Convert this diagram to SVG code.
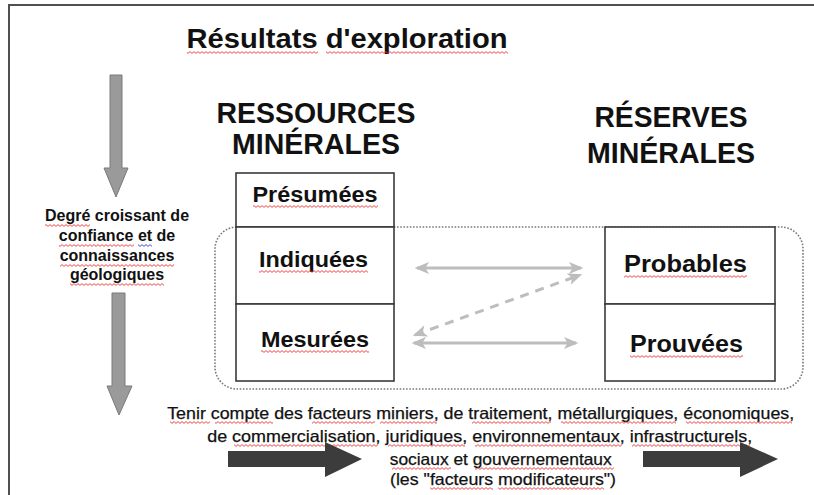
<svg xmlns="http://www.w3.org/2000/svg" width="814" height="495" viewBox="0 0 814 495">
<style>
.t{font-family:"Liberation Sans",Arial,sans-serif;font-weight:bold;fill:#111;text-anchor:middle}
.b{font-family:"Liberation Sans",Arial,sans-serif;fill:#111;text-anchor:middle;stroke:#111;stroke-width:0.25}
.box{fill:#fff;stroke:#3a3a3a;stroke-width:1.6}
.lg{stroke:#bdbdbd;stroke-width:3;fill:none}
.bigg{fill:#9a9a9a;stroke:#7a7a7a;stroke-width:1}
.dark{fill:#3c3c3c}
.zr{fill:none;stroke:#e33;stroke-width:0.9}
.zb{fill:none;stroke:#2a3ad8;stroke-width:0.9}
</style>
<defs>
<marker id="ah" viewBox="0 0 12 10" refX="10" refY="5" markerWidth="5" markerHeight="4" orient="auto-start-reverse" markerUnits="strokeWidth">
<path d="M0,0 L12,5 L0,10 L3,5 z" fill="#bdbdbd"/>
</marker>
<pattern id="w0" x="0" y="0" width="4" height="3" patternUnits="userSpaceOnUse"><path class="zr" d="M0,2.4 L2,0.6 L4,2.4"/></pattern>
<pattern id="w1" x="0" y="1" width="4" height="3" patternUnits="userSpaceOnUse"><path class="zr" d="M0,2.4 L2,0.6 L4,2.4"/></pattern>
<pattern id="w2" x="0" y="2" width="4" height="3" patternUnits="userSpaceOnUse"><path class="zr" d="M0,2.4 L2,0.6 L4,2.4"/></pattern>
<pattern id="b1" x="0" y="1" width="4" height="3" patternUnits="userSpaceOnUse"><path class="zb" d="M0,2.4 L2,0.6 L4,2.4"/></pattern>
</defs>
<rect width="814" height="495" fill="#fff"/>
<!-- frame -->
<path d="M9,495 V5 H814" fill="none" stroke="#505050" stroke-width="2"/>

<!-- title -->
<g id="title">
<text class="t" x="347" y="48" font-size="28" textLength="321" lengthAdjust="spacingAndGlyphs">Résultats d'exploration</text>
<rect x="187" y="51" width="131" height="3" fill="url(#w0)"/>
<rect x="326" y="51" width="182" height="3" fill="url(#w0)"/>
</g>

<!-- left big arrows -->
<g id="arrow-confidence">
<path class="bigg" d="M110,75 H122 V168 H128 L116,197 L104,168 H110 Z"/>
<path class="bigg" d="M112,293 H125 V386 H132 L119,415 L107,386 H112 Z"/>
</g>
<g id="label-confidence">
<text class="t" font-size="16"><tspan x="117" y="221">Degré croissant de</tspan><tspan x="117" y="241">confiance et de</tspan><tspan x="117" y="261">connaissances</tspan><tspan x="117" y="280">géologiques</tspan></text>
<rect x="45" y="224" width="45" height="3" fill="url(#w2)"/>
<rect x="59" y="244" width="75" height="3" fill="url(#w1)"/>
<rect x="138" y="244" width="14" height="3" fill="url(#b1)"/>
<rect x="60" y="264" width="114" height="3" fill="url(#w0)"/>
<rect x="70" y="283" width="94" height="3" fill="url(#w1)"/>
</g>

<!-- headers -->
<g id="header-ressources">
<text class="t" font-size="29"><tspan x="316" y="123" textLength="199" lengthAdjust="spacingAndGlyphs">RESSOURCES</tspan><tspan x="316" y="154" textLength="168" lengthAdjust="spacingAndGlyphs">MINÉRALES</tspan></text>
</g>
<g id="header-reserves">
<text class="t" font-size="30"><tspan x="671" y="127" textLength="153" lengthAdjust="spacingAndGlyphs">RÉSERVES</tspan><tspan x="671" y="163" textLength="168" lengthAdjust="spacingAndGlyphs">MINÉRALES</tspan></text>
</g>

<!-- dotted envelope -->
<g id="envelope">
<rect x="215" y="227" width="588" height="162" rx="22" fill="none" stroke="#7a7a7a" stroke-width="1.6" stroke-dasharray="1.6 1.6"/>
</g>

<!-- resources box -->
<g id="node-presumees">
<rect class="box" x="236" y="173" width="158" height="54"/>
<text class="t" x="315" y="202" font-size="22" textLength="125" lengthAdjust="spacingAndGlyphs">Présumées</text>
<rect x="253" y="205" width="125" height="3" fill="url(#w1)"/>
</g>
<g id="node-indiquees">
<rect class="box" x="236" y="227" width="158" height="77"/>
<text class="t" x="313.5" y="267" font-size="22" textLength="109" lengthAdjust="spacingAndGlyphs">Indiquées</text>
<rect x="259" y="270" width="109" height="3" fill="url(#w0)"/>
</g>
<g id="node-mesurees">
<rect class="box" x="236" y="304" width="158" height="77"/>
<text class="t" x="315" y="347" font-size="22" textLength="108" lengthAdjust="spacingAndGlyphs">Mesurées</text>
<rect x="261" y="350" width="108" height="3" fill="url(#w2)"/>
</g>

<!-- reserves box -->
<g id="node-probables">
<rect class="box" x="605" y="227" width="170" height="77"/>
<text class="t" x="685.5" y="272" font-size="23" textLength="123" lengthAdjust="spacingAndGlyphs">Probables</text>
<rect x="624" y="275" width="123" height="3" fill="url(#w2)"/>
</g>
<g id="node-prouvees">
<rect class="box" x="605" y="304" width="170" height="77"/>
<text class="t" x="686.5" y="352" font-size="23" textLength="113" lengthAdjust="spacingAndGlyphs">Prouvées</text>
<rect x="630" y="355" width="113" height="3" fill="url(#w1)"/>
</g>

<!-- connectors -->
<g id="connectors">
<line class="lg" x1="417" y1="268" x2="581" y2="268" marker-start="url(#ah)" marker-end="url(#ah)"/>
<line class="lg" x1="414" y1="343" x2="576" y2="343" marker-start="url(#ah)" marker-end="url(#ah)"/>
<line class="lg" x1="415" y1="335" x2="580" y2="275" stroke-dasharray="9 7" marker-start="url(#ah)" marker-end="url(#ah)"/>
</g>

<!-- modifying factors -->
<g id="modifying-factors">
<text class="b" font-size="16.5">
<tspan x="483" y="419" textLength="627" lengthAdjust="spacingAndGlyphs">Tenir compte des facteurs miniers, de traitement, métallurgiques, économiques,</tspan>
<tspan x="482" y="442" textLength="545" lengthAdjust="spacingAndGlyphs">de commercialisation, juridiques, environnementaux, infrastructurels,</tspan>
<tspan x="503" y="465" textLength="222" lengthAdjust="spacingAndGlyphs">sociaux et gouvernementaux</tspan>
<tspan x="503" y="485" textLength="226" lengthAdjust="spacingAndGlyphs">(les "facteurs modificateurs")</tspan>
</text>
<rect x="170" y="421" width="40" height="3" fill="url(#w1)"/>
<rect x="215" y="421" width="58" height="3" fill="url(#w1)"/>
<rect x="312" y="421" width="63" height="3" fill="url(#w1)"/>
<rect x="380" y="421" width="57" height="3" fill="url(#w1)"/>
<rect x="472" y="421" width="79" height="3" fill="url(#w1)"/>
<rect x="561" y="421" width="115" height="3" fill="url(#w1)"/>
<rect x="686" y="421" width="106" height="3" fill="url(#w1)"/>
<rect x="234" y="444" width="144" height="3" fill="url(#w0)"/>
<rect x="388" y="444" width="77" height="3" fill="url(#w0)"/>
<rect x="475" y="444" width="147" height="3" fill="url(#w0)"/>
<rect x="632" y="444" width="118" height="3" fill="url(#w0)"/>
<rect x="392" y="467" width="59" height="3" fill="url(#w2)"/>
<rect x="475" y="467" width="139" height="3" fill="url(#w2)"/>
<rect x="430" y="487" width="63" height="3" fill="url(#w1)"/>
<rect x="498" y="487" width="106" height="3" fill="url(#w1)"/>
</g>
<g id="arrows-modifying">
<path class="dark" d="M228,451 H325 V442 L362,459 L325,477 V467 H228 Z"/>
<path class="dark" d="M643,451 H740 V442 L778,459 L740,477 V467 H643 Z"/>
</g>
</svg>
